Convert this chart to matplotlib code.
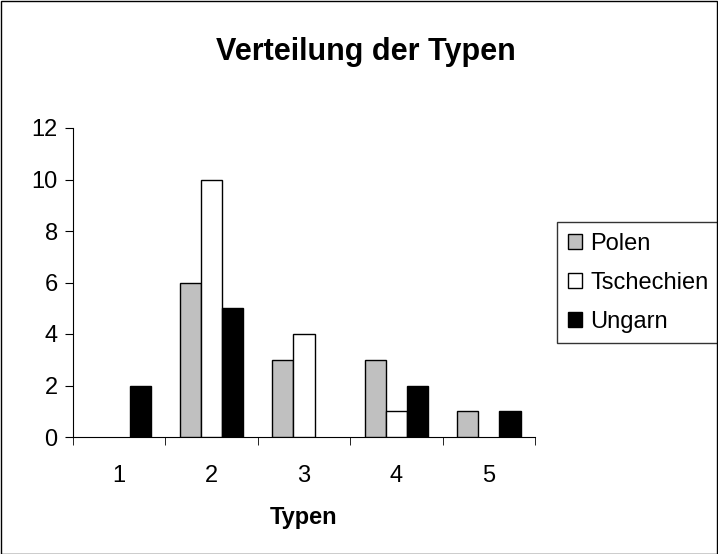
import numpy as np
from matplotlib import pyplot as plt
from matplotlib.patches import Rectangle

# =============================================================================
# Data:
# =============================================================================

categories = ["1", "2", "3", "4", "5"]
polen = [0, 6, 3, 3, 1]
tschechien = [0, 10, 4, 1, 0]
ungarn = [2, 5, 0, 2, 1]

SERIES = [
    ("Polen", polen, "#c0c0c0"),
    ("Tschechien", tschechien, "white"),
    ("Ungarn", ungarn, "black"),
]

plt.rcParams['font.family'] = ['Liberation Sans', 'DejaVu Sans']

fig = plt.figure(figsize=(7.18, 5.54), dpi=100)
ax = fig.add_axes([73 / 718, 1 - 437 / 554, (535 - 73) / 718, (437 - 128) / 554])

# figure frame
fig.patches.append(Rectangle((0.5 / 718, 0.5 / 554), 716.5 / 718, 552.5 / 554,
                             transform=fig.transFigure, fill=False,
                             edgecolor="black", linewidth=1))

x = np.arange(len(categories))
width = 0.23
for k, (name, vals, color) in enumerate(SERIES):
    # skip zero values so no flat bars show up on the axis
    xs = [xi + (k - 1) * width for xi, v in zip(x, vals) if v > 0]
    vs = [v for v in vals if v > 0]
    ax.bar(xs, vs, width, color=color, edgecolor="black", linewidth=1,
           label=name, zorder=3)

ax.set_xlim(-0.5, len(categories) - 0.5)
ax.set_ylim(0, 12)
ax.set_yticks(range(0, 13, 2))
ax.set_xticks(x)
ax.set_xticklabels(categories)
ax.set_xticks(np.arange(-0.5, len(categories)), minor=True)
ax.tick_params(axis="x", which="major", length=0, pad=20, labelsize=17)
ax.tick_params(axis="x", which="minor", length=6, direction="out")
ax.tick_params(axis="y", length=6, direction="out", labelsize=17, pad=5)

for side in ["top", "right"]:
    ax.spines[side].set_visible(False)

ax.set_xlabel("Typen", fontsize=17, fontweight="bold", labelpad=14)
fig.text(366 / 718, 1 - 52 / 554, "Verteilung der Typen", fontsize=22,
         fontweight="bold", ha="center", va="center")

# legend box runs past the right edge, as in the original
leg = ax.legend(loc="upper left",
                bbox_to_anchor=(557 / 718, 1 - 343 / 554, 180 / 718, 121 / 554),
                bbox_transform=fig.transFigure, mode="expand",
                frameon=True, fancybox=False,
                fontsize=17, handlelength=0.6, handleheight=0.6,
                handletextpad=0.35, labelspacing=0.72, borderpad=0.45,
                borderaxespad=0)
leg.get_frame().set_edgecolor("black")
leg.get_frame().set_linewidth(1)

fig.savefig("out.png", dpi=100)
